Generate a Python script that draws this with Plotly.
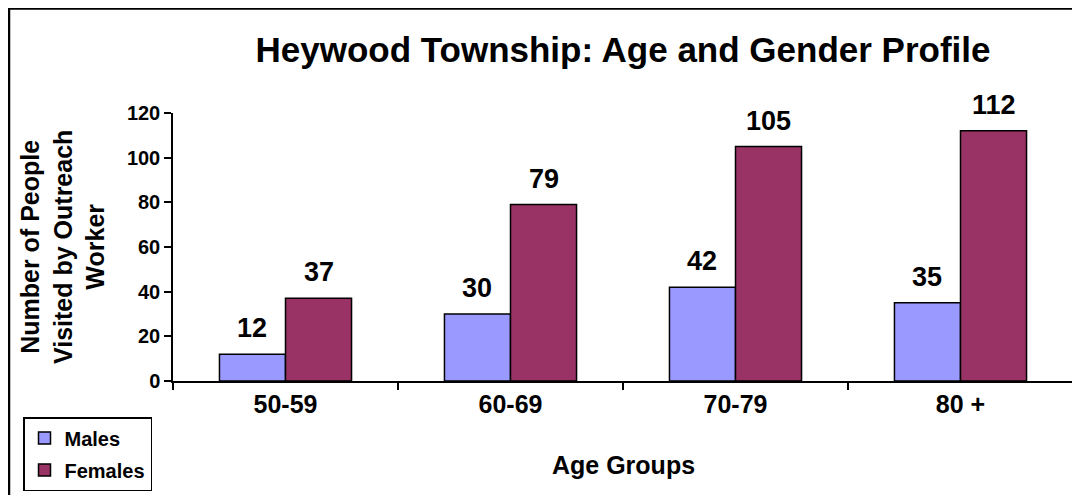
import plotly.graph_objects as go

categories = ["50-59", "60-69", "70-79", "80 +"]
males = [12, 30, 42, 35]
females = [37, 79, 105, 112]
y_ticks = [0, 20, 40, 60, 80, 100, 120]

# figure coordinates (page body adds an 8px offset on screen)
L, R, T, B = 165, 15, 105, 122
W, H = 1080, 495
pw, ph = W - L - R, H - T - B

def px(x):
    return (x - L) / pw

def py(y):
    return (H - B - y) / ph

font_main = "Arial, Liberation Sans, sans-serif"
BAR_HALF = pw / len(categories) * (1 - 0.413) / 4  # pixel offset of each bar centre

fig = go.Figure()
fig.add_trace(go.Bar(
    name="Males", x=categories, y=males, legendgroup="m",
    marker=dict(color="#9999FF", line=dict(color="black", width=1.5)),
))
fig.add_trace(go.Bar(
    name="Females", x=categories, y=females, legendgroup="f",
    marker=dict(color="#993366", line=dict(color="black", width=1.5)),
))

for vals, sgn in ((males, -1), (females, 1)):
    for c, v in zip(categories, vals):
        fig.add_annotation(
            x=c, y=v, xref="x", yref="y", text=str(v), showarrow=False,
            xshift=sgn * BAR_HALF, yshift=9, yanchor="bottom",
            font=dict(family=font_main, size=27, color="black", weight="bold"),
        )

fig.update_layout(
    width=W, height=H,
    margin=dict(l=L, r=R, t=T, b=B, autoexpand=False),
    paper_bgcolor="white", plot_bgcolor="white",
    barmode="group", bargap=0.413, bargroupgap=0,
    font=dict(family=font_main, color="black"),
    title=dict(
        text="Heywood Township: Age and Gender Profile",
        font=dict(family=font_main, size=35, color="black", weight="bold"),
        x=0.5, xanchor="center", xref="paper",
        y=(H - 42) / H, yanchor="middle",
    ),
    showlegend=True,
    legend=dict(
        x=px(15), y=py(409), xanchor="left", yanchor="top",
        bordercolor="black", borderwidth=1.5, bgcolor="white",
        font=dict(family=font_main, size=20, color="black", weight="bold"),
        itemwidth=30, traceorder="grouped", tracegroupgap=3,
    ),
    xaxis=dict(
        showline=True, linecolor="black", linewidth=1.5,
        ticks="outside", tickson="boundaries", ticklen=7, tickwidth=1.5, tickcolor="black",
        tickfont=dict(family=font_main, size=25, color="black", weight="bold"),
        showgrid=False, zeroline=False,
    ),
    yaxis=dict(
        range=[0, 120], tickvals=y_ticks,
        showline=True, linecolor="black", linewidth=1.5,
        ticks="outside", ticklen=7, tickwidth=1.5, tickcolor="black",
        tickfont=dict(family=font_main, size=20, color="black", weight="bold"),
        showgrid=False, zeroline=False,
    ),
)

fig.add_annotation(
    text="Number of People<br>Visited by Outreach<br>Worker",
    xref="paper", yref="paper", x=px(54), y=py(239),
    xanchor="center", yanchor="middle", textangle=-90, showarrow=False,
    font=dict(family=font_main, size=25, color="black", weight="bold"), align="center",
)
fig.add_annotation(
    text="Age Groups",
    xref="paper", yref="paper", x=0.5, y=py(457),
    xanchor="center", yanchor="middle", showarrow=False,
    font=dict(family=font_main, size=25, color="black", weight="bold"),
)

fig.add_shape(
    type="rect", xref="paper", yref="paper",
    x0=px(1), x1=px(1100), y0=py(520), y1=py(0.5),
    line=dict(color="black", width=2.5), fillcolor="rgba(0,0,0,0)", layer="above",
)

fig.write_html("out.html")
